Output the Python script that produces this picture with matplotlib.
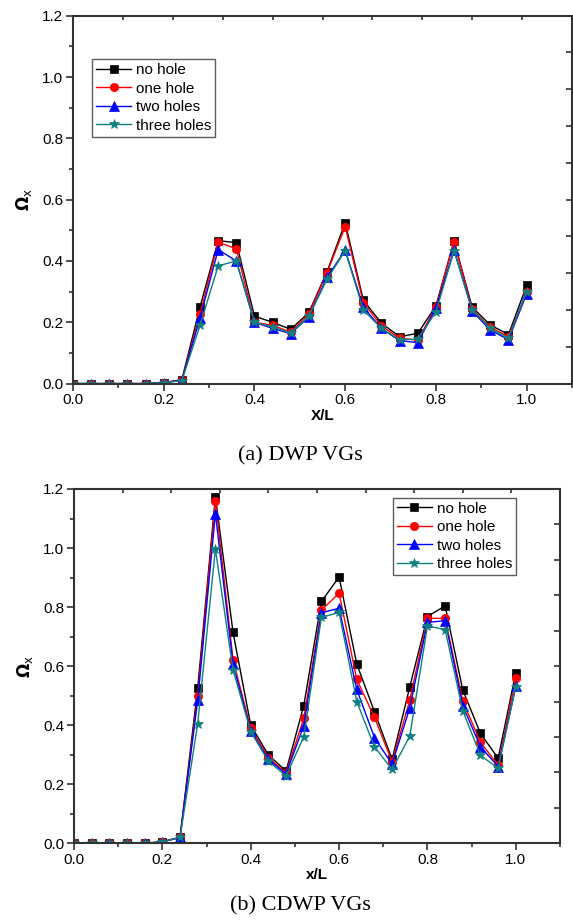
import matplotlib
matplotlib.use("Agg")
import matplotlib.pyplot as plt
import numpy as np
from matplotlib.ticker import MultipleLocator

x = [0.00, 0.04, 0.08, 0.12, 0.16, 0.20, 0.24, 0.28, 0.32, 0.36, 0.40, 0.44, 0.48,
     0.52, 0.56, 0.60, 0.64, 0.68, 0.72, 0.76, 0.80, 0.84, 0.88, 0.92, 0.96, 1.00]

# (a) DWP VGs
a_no = [0, 0, 0, 0, 0, 0.003, 0.013, 0.25, 0.466, 0.46, 0.22, 0.20, 0.177,
        0.232, 0.365, 0.525, 0.272, 0.197, 0.153, 0.164, 0.253, 0.466, 0.249, 0.191, 0.16, 0.32]
a_one = [0, 0, 0, 0, 0, 0.003, 0.012, 0.227, 0.461, 0.44, 0.20, 0.19, 0.168,
         0.227, 0.362, 0.512, 0.264, 0.188, 0.148, 0.142, 0.25, 0.463, 0.243, 0.183, 0.153, 0.30]
a_two = [0, 0, 0, 0, 0, 0.003, 0.011, 0.214, 0.437, 0.40, 0.20, 0.18, 0.163,
         0.218, 0.347, 0.435, 0.249, 0.18, 0.14, 0.134, 0.245, 0.437, 0.236, 0.175, 0.143, 0.293]
a_three = [0, 0, 0, 0, 0, 0.003, 0.010, 0.19, 0.384, 0.40, 0.20, 0.185, 0.165,
           0.22, 0.34, 0.434, 0.24, 0.18, 0.143, 0.145, 0.234, 0.433, 0.24, 0.18, 0.148, 0.30]

# (b) CDWP VGs
b_no = [0, 0, 0, 0, 0, 0.005, 0.02, 0.525, 1.174, 0.714, 0.40, 0.299, 0.245,
        0.466, 0.819, 0.902, 0.607, 0.446, 0.284, 0.53, 0.768, 0.804, 0.519, 0.372, 0.288, 0.578]
b_one = [0, 0, 0, 0, 0, 0.005, 0.02, 0.50, 1.16, 0.621, 0.389, 0.29, 0.239,
         0.423, 0.79, 0.847, 0.555, 0.427, 0.276, 0.485, 0.762, 0.762, 0.482, 0.342, 0.265, 0.561]
b_two = [0, 0, 0, 0, 0, 0.005, 0.02, 0.484, 1.117, 0.607, 0.381, 0.284, 0.235,
         0.398, 0.781, 0.796, 0.521, 0.358, 0.268, 0.459, 0.748, 0.754, 0.466, 0.327, 0.26, 0.533]
b_three = [0, 0, 0, 0, 0, 0.005, 0.02, 0.405, 0.997, 0.587, 0.378, 0.278, 0.228,
           0.361, 0.765, 0.782, 0.48, 0.327, 0.25, 0.363, 0.736, 0.724, 0.449, 0.298, 0.254, 0.531]

labels = ["no hole", "one hole", "two holes", "three holes"]
colors = ["black", "red", "blue", "#0f8080"]
markers = ["s", "o", "^", "*"]
msizes = [5.5, 6, 6.5, 7.5]

plt.rcParams["font.family"] = ["Liberation Sans", "DejaVu Sans"]

fig = plt.figure(figsize=(5.73, 9.23), dpi=100)
axA = fig.add_axes([73/573, 1-383.6/923, 499/573, 367.9/923])
axB = fig.add_axes([74/573, 1-843.3/923, 486/573, 354.3/923])

def style(ax, xlabel):
    ax.set_xlim(0, 1.1)
    ax.set_ylim(0, 1.2)
    ax.xaxis.set_minor_locator(MultipleLocator(0.1))
    ax.yaxis.set_minor_locator(MultipleLocator(0.1))
    ax.set_xticks([0.0, 0.2, 0.4, 0.6, 0.8, 1.0])
    ax.set_xticklabels(["0.0", "0.2", "0.4", "0.6", "0.8", "1.0"])
    ax.set_yticks([0.0, 0.2, 0.4, 0.6, 0.8, 1.0, 1.2])
    ax.set_yticklabels(["0.0", "0.2", "0.4", "0.6", "0.8", "1.0", "1.2"])
    ax.tick_params(which="both", direction="out", top=False, right=False,
                   labelsize=11, color="#333333", width=1.2)
    ax.tick_params(which="major", length=5, pad=2)
    ax.tick_params(which="minor", length=3)
    for s in ax.spines.values():
        s.set_color("#333333")
        s.set_linewidth(1.5)
    # opposite axes with their own ten divisions, ticks pointing inward
    top = ax.secondary_xaxis("top")
    top.set_ticks(np.linspace(0, 1.1, 11)[1:-1])
    top.tick_params(direction="in", length=3, width=1.2, color="#333333", labeltop=False)
    top.spines["top"].set_visible(False)
    right = ax.secondary_yaxis("right")
    right.set_ticks(np.linspace(0, 1.2, 11)[1:-1])
    right.tick_params(direction="in", length=4, width=1.2, color="#333333", labelright=False)
    right.spines["right"].set_visible(False)
    ax.set_xlabel(xlabel, fontsize=11, fontweight="bold", labelpad=1)
    ax.set_ylabel(r"$\mathbf{\Omega}_{\mathrm{x}}$", fontsize=12, labelpad=6)

for ax, ys in [(axA, [a_no, a_one, a_two, a_three]), (axB, [b_no, b_one, b_two, b_three])]:
    for y, lab, c, m, ms in zip(ys, labels, colors, markers, msizes):
        ax.plot(x, y, color=c, marker=m, markersize=ms, linewidth=1.0, label=lab,
                markeredgewidth=0.5)

style(axA, "X/L")
style(axB, "x/L")

legkw = dict(fontsize=11, frameon=True, fancybox=False, edgecolor="#333333",
             handlelength=2.3, handletextpad=0.3, borderpad=0.25, labelspacing=0.3,
             borderaxespad=0)
legA = axA.legend(loc="upper left", bbox_to_anchor=(0.039, 0.882), **legkw)
legA.get_frame().set_linewidth(1.0)
legB = axB.legend(loc="upper right", bbox_to_anchor=(0.909, 0.975), **legkw)
legB.get_frame().set_linewidth(1.0)

fig.text(300/573, 1-456/923, "(a) DWP VGs", ha="center", va="center",
         family=["Liberation Serif", "DejaVu Serif"], fontsize=16)
fig.text(300/573, 1-906/923, "(b) CDWP VGs", ha="center", va="center",
         family=["Liberation Serif", "DejaVu Serif"], fontsize=16)

fig.savefig("out.png", dpi=100)
